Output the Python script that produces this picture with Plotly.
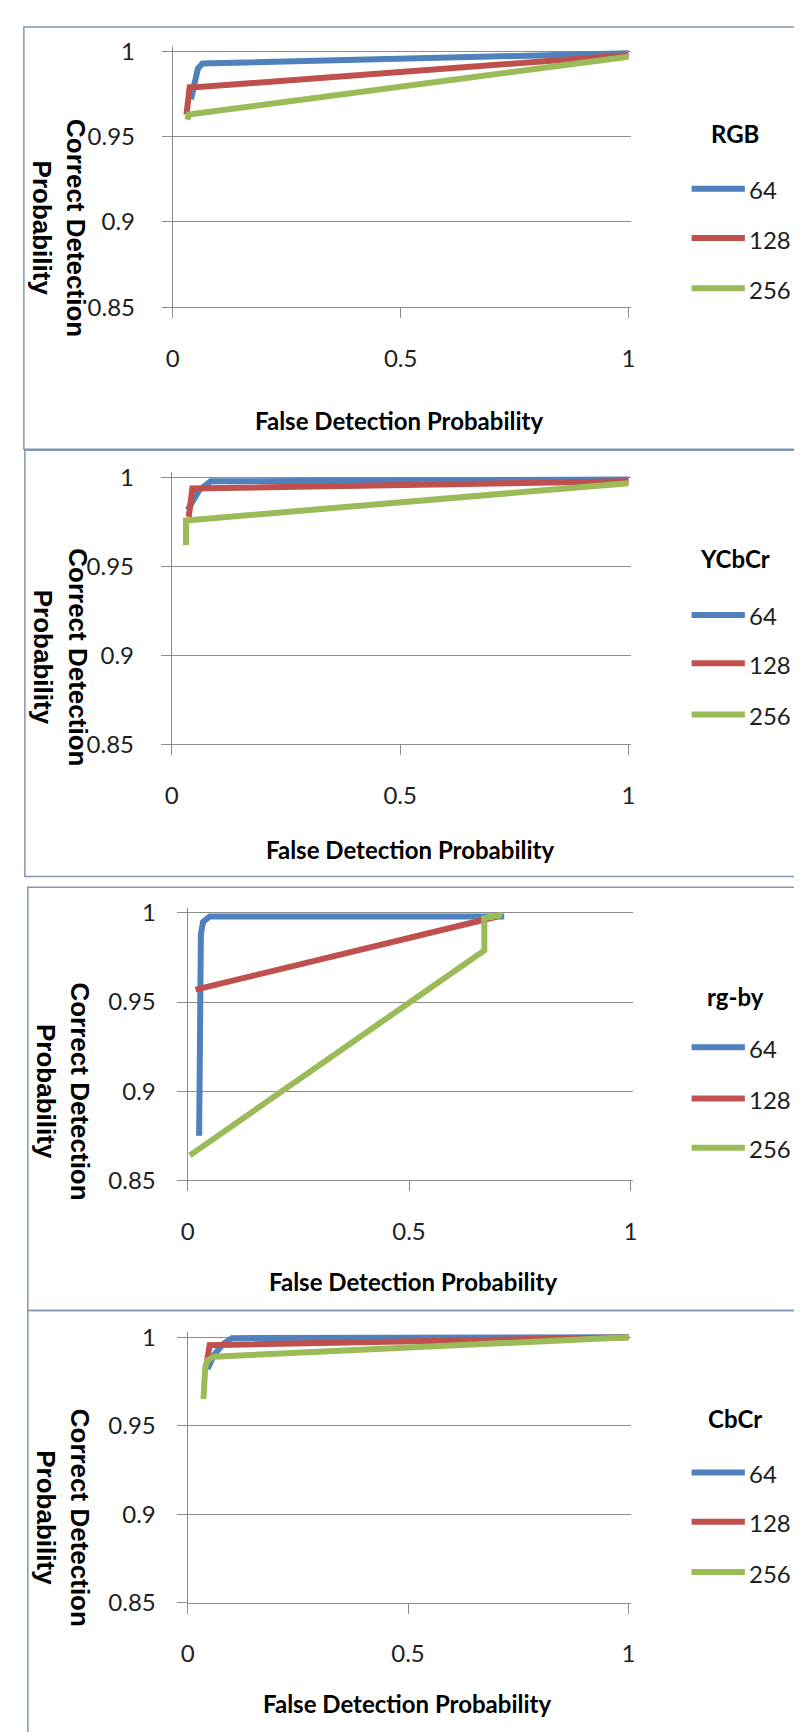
import plotly.graph_objects as go

W, H = 802, 1732

# ---------------- data ----------------
PANEL_NAMES = ["RGB", "YCbCr", "rg-by", "CbCr"]
SERIES = ["64", "128", "256"]
X_TICKS = [0, 0.5, 1]
X_TICK_TEXT = ["0", "0.5", "1"]
Y_TICKS = [0.85, 0.9, 0.95, 1]
Y_TICK_TEXT = ["0.85", "0.9", "0.95", "1"]
X_TITLE = "False Detection Probability"
Y_TITLE_LINES = ["Correct Detection", "Probability"]

RGB_64_X = [0.040, 0.045, 0.050, 0.055, 0.065, 1.0]
RGB_64_Y = [0.972, 0.978, 0.985, 0.990, 0.993, 0.999]
RGB_128_X = [0.030, 0.033, 0.037, 0.050, 1.0]
RGB_128_Y = [0.963, 0.972, 0.979, 0.979, 0.998]
RGB_256_X = [0.032, 0.035, 1.0]
RGB_256_Y = [0.960, 0.963, 0.997]

YCBCR_64_X = [0.035, 0.045, 0.060, 0.085, 1.0]
YCBCR_64_Y = [0.982, 0.987, 0.993, 0.998, 0.999]
YCBCR_128_X = [0.037, 0.040, 0.045, 1.0]
YCBCR_128_Y = [0.978, 0.985, 0.994, 0.998]
YCBCR_256_X = [0.031, 0.031, 1.0]
YCBCR_256_Y = [0.962, 0.976, 0.997]

RGBY_64_X = [0.026, 0.028, 0.030, 0.035, 0.050, 0.715]
RGBY_64_Y = [0.875, 0.950, 0.988, 0.995, 0.998, 0.998]
RGBY_128_X = [0.018, 0.700]
RGBY_128_Y = [0.957, 0.998]
RGBY_256_X = [0.005, 0.670, 0.670, 0.710]
RGBY_256_Y = [0.864, 0.979, 0.997, 0.999]

CBCR_64_X = [0.045, 0.060, 0.080, 0.100, 1.0]
CBCR_64_Y = [0.982, 0.990, 0.996, 0.9995, 1.0]
CBCR_128_X = [0.043, 0.045, 0.050, 1.0]
CBCR_128_Y = [0.985, 0.990, 0.9955, 1.0]
CBCR_256_X = [0.036, 0.037, 0.040, 0.045, 0.060, 1.0]
CBCR_256_Y = [0.965, 0.975, 0.983, 0.987, 0.989, 1.0]

PANEL_DATA = [
    [(RGB_64_X, RGB_64_Y), (RGB_128_X, RGB_128_Y), (RGB_256_X, RGB_256_Y)],
    [(YCBCR_64_X, YCBCR_64_Y), (YCBCR_128_X, YCBCR_128_Y), (YCBCR_256_X, YCBCR_256_Y)],
    [(RGBY_64_X, RGBY_64_Y), (RGBY_128_X, RGBY_128_Y), (RGBY_256_X, RGBY_256_Y)],
    [(CBCR_64_X, CBCR_64_Y), (CBCR_128_X, CBCR_128_Y), (CBCR_256_X, CBCR_256_Y)],
]

# ---------------- styles / layout (pixels) ----------------
COLORS = ["#4F81BD", "#C0504D", "#9BBB59"]
GRID = "#8C8C8C"
BORDER = "#8497B0"
TEXT = "#1E1E1E"
FONT = "Lato"
YT_FONT = "Liberation Sans"
LINE_W = 6

# plot area: pixel of x=0, x=1, y=1, y=0.85
PLOT_PX = [
    (160, 622, 34, 293),
    (159, 622, 466, 736),
    (175, 624, 907, 1178),
    (175, 622, 1337, 1606),
]
BOX_PX = [(9, 9, 437), (10, 438, 870), (13, 881, 1310), (13, 1310, 1745)]
# y title: x of line 1, x of line 2, y centre
YTITLE_PX = [(62, 27, 213), (63, 28, 648), (66, 32, 1088), (66, 32, 1520)]
XTITLE_PX = [(389, 408), (400, 843), (404, 1280), (397, 1708)]
LEGTITLE_PX = [(730, 117), (730, 548), (731, 992), (730, 1419)]
LEG_ITEMS_PX = [(173, 223, 274), (605, 654, 706), (1043, 1095, 1145), (1474, 1524, 1575)]
LEG_LINE_X = (686, 740)
LEG_TEXT_X = 742
X_OVER = 0.006
Y_OVER = 0.003


def xp(px):
    return px / W


def yp(py):
    return 1 - py / H


fig = go.Figure()
layout = dict(
    width=W, height=H, autosize=False,
    margin=dict(l=0, r=0, t=0, b=0),
    paper_bgcolor="white", plot_bgcolor="white",
    showlegend=False,
)
annotations = []
shapes = []
bold = dict(family=FONT, size=24, color="black", weight="bold")
ybold = dict(family=YT_FONT, size=26, color="black", weight="bold")

for i, name in enumerate(PANEL_NAMES):
    k = i + 1
    sfx = "" if k == 1 else str(k)
    x0, x1, yt, yb = PLOT_PX[i]
    xdom_r = x0 + (1 + X_OVER) * (x1 - x0)
    ydom_t = yt - Y_OVER * (yb - yt) / 0.15

    for j, s in enumerate(SERIES):
        xs, ys = PANEL_DATA[i][j]
        fig.add_trace(go.Scatter(
            x=xs, y=ys, mode="lines", name=f"{name} {s}",
            line=dict(color=COLORS[j], width=LINE_W),
            xaxis="x" + sfx, yaxis="y" + sfx,
            hoverinfo="skip",
        ))

    layout["xaxis" + sfx] = dict(
        domain=[xp(x0), xp(xdom_r)], anchor="y" + sfx,
        range=[0, 1 + X_OVER], tickvals=X_TICKS, ticktext=X_TICK_TEXT,
        showgrid=False, zeroline=False, showline=True, linecolor=GRID, linewidth=1,
        ticks="outside", ticklen=10, tickcolor=GRID, tickwidth=1,
        ticklabelstandoff=20,
        tickfont=dict(family=FONT, size=24, color=TEXT), fixedrange=True,
    )
    layout["yaxis" + sfx] = dict(
        domain=[yp(yb), yp(ydom_t)], anchor="x" + sfx,
        range=[0.85, 1 + Y_OVER], tickvals=Y_TICKS, ticktext=Y_TICK_TEXT,
        showgrid=True, gridcolor=GRID, gridwidth=1,
        zeroline=False, showline=True, linecolor=GRID, linewidth=1,
        ticks="outside", ticklen=10, tickcolor=GRID, tickwidth=1,
        ticklabelstandoff=22 if i < 2 else 16,
        tickfont=dict(family=FONT, size=24, color=TEXT), fixedrange=True,
    )

    # y axis title (rotated clockwise, two lines)
    l1x, l2x, ycen = YTITLE_PX[i]
    for txt, lx in zip(Y_TITLE_LINES, (l1x, l2x)):
        annotations.append(dict(
            text=txt, x=xp(lx), y=yp(ycen), xref="paper", yref="paper",
            xanchor="center", yanchor="middle", showarrow=False, textangle=90,
            font=ybold,
        ))
    # x axis title
    xtx, xty = XTITLE_PX[i]
    annotations.append(dict(
        text=X_TITLE, x=xp(xtx), y=yp(xty), xref="paper", yref="paper",
        xanchor="center", yanchor="middle", showarrow=False, font=bold,
    ))

    # legend (title + keys)
    ltx, lty = LEGTITLE_PX[i]
    annotations.append(dict(
        text=name, x=xp(ltx), y=yp(lty), xref="paper", yref="paper",
        xanchor="center", yanchor="middle", showarrow=False, font=bold,
    ))
    for j, s in enumerate(SERIES):
        iy = LEG_ITEMS_PX[i][j]
        shapes.append(dict(
            type="line", xref="paper", yref="paper",
            x0=xp(LEG_LINE_X[0]), x1=xp(LEG_LINE_X[1]), y0=yp(iy), y1=yp(iy),
            line=dict(color=COLORS[j], width=LINE_W),
        ))
        annotations.append(dict(
            text=s, x=xp(LEG_TEXT_X), y=yp(iy + 1), xref="paper", yref="paper",
            xanchor="left", yanchor="middle", showarrow=False,
            font=dict(family=FONT, size=24, color=TEXT),
        ))

    bl, bt, bb = BOX_PX[i]
    shapes.append(dict(
        type="rect", xref="paper", yref="paper",
        x0=xp(bl), x1=xp(W + 20), y0=yp(bb), y1=yp(bt),
        line=dict(color=BORDER, width=1.5), fillcolor="rgba(0,0,0,0)", layer="below",
    ))

layout["annotations"] = annotations
layout["shapes"] = shapes
fig.update_layout(**layout)

fig.write_html("out.html", config={"displayModeBar": False})
